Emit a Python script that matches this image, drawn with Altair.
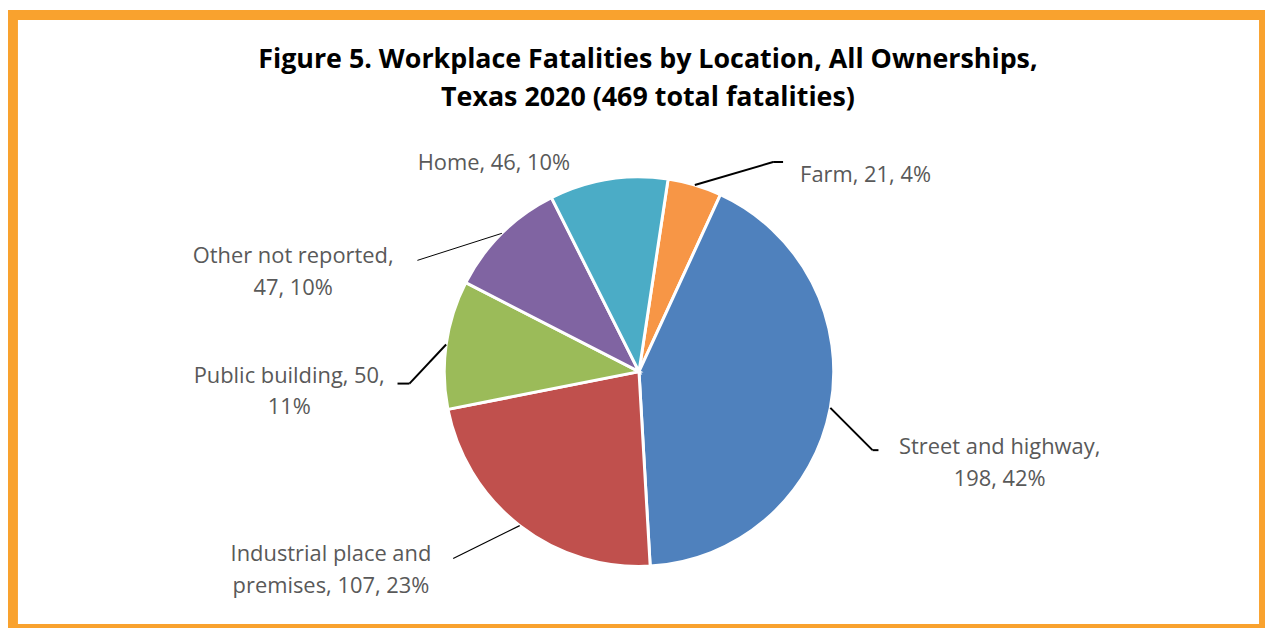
import math
import altair as alt
import pandas as pd

# ---------------- data ----------------
locations = ["Farm", "Street and highway", "Industrial place and premises",
             "Public building", "Other not reported", "Home"]
fatalities = [21, 198, 107, 50, 47, 46]
percents = [4, 42, 23, 11, 10, 10]
label_texts = ["Farm, 21, 4%",
               "Street and highway,\n198, 42%",
               "Industrial place and\npremises, 107, 23%",
               "Public building, 50,\n11%",
               "Other not reported,\n47, 10%",
               "Home, 46, 10%"]
colors = ["#F79646", "#4F81BD", "#C0504D", "#9BBB59", "#8064A2", "#4BACC6"]
title_lines = ["Figure 5. Workplace Fatalities by Location, All Ownerships,",
               "Texas 2020 (469 total fatalities)"]

# ---------------- layout (pixels inside the chart) ----------------
W, H = 1265, 620
CX, CY, R = 635, 364, 196
START_DEG = 8.6
label_pos = {  # centre x and first-line centre y of each label
    "Farm": (863, 166), "Street and highway": (998, 440),
    "Industrial place and premises": (325, 548), "Public building": (283, 368),
    "Other not reported": (287, 248), "Home": (489, 154)}
leader_pts = {  # points after the start point on the pie edge
    "Farm": [(770, 153), (780, 153)],
    "Street and highway": [(870, 443), (876, 443)],
    "Industrial place and premises": [(448, 552)],
    "Public building": [(404, 376), (392, 376)],
    "Other not reported": [(412, 252)],
}
leader_w = {"Farm": 2, "Street and highway": 2, "Industrial place and premises": 1.2,
            "Public building": 2, "Other not reported": 1}

df = pd.DataFrame({"loc": locations, "value": fatalities, "idx": range(len(locations))})

# mid angles from the data
total = sum(fatalities)
mid_deg = {}
cum = 0
for loc, v in zip(locations, fatalities):
    mid_deg[loc] = START_DEG + (cum + v / 2) / total * 360
    cum += v

seg_rows = []
for loc, pts in leader_pts.items():
    a = math.radians(mid_deg[loc])
    start = (CX + R * math.sin(a), CY - R * math.cos(a))
    chain = [start] + pts
    for p, q in zip(chain[:-1], chain[1:]):
        seg_rows.append({"x": p[0], "y": p[1], "x2": q[0], "y2": q[1], "w": leader_w[loc]})
seg_df = pd.DataFrame(seg_rows)

lab_df = pd.DataFrame({"text": label_texts,
                       "x": [label_pos[l][0] for l in locations],
                       "y": [label_pos[l][1] for l in locations]})

a0 = math.radians(START_DEG)
pie = alt.Chart(df).mark_arc(radius=R, stroke="white", strokeWidth=3).encode(
    theta=alt.Theta("value:Q", stack=True, scale=alt.Scale(range=[a0, a0 + 2 * math.pi])),
    color=alt.Color("loc:N", scale=alt.Scale(domain=locations, range=colors), legend=None),
    order=alt.Order("idx:Q"),
    x=alt.value(CX), y=alt.value(CY),
)

leaders = alt.Chart(seg_df).mark_rule(color="black").encode(
    x=alt.X("x:Q", scale=None, axis=None), y=alt.Y("y:Q", scale=None, axis=None),
    x2="x2:Q", y2="y2:Q", size=alt.Size("w:Q", scale=None, legend=None),
)

labels = alt.Chart(lab_df).mark_text(
    font="Open Sans", fontSize=22, color="#595959", align="center", baseline="middle",
    lineBreak="\n", lineHeight=32,
).encode(
    x=alt.X("x:Q", scale=None, axis=None), y=alt.Y("y:Q", scale=None, axis=None),
    text="text:N",
)

title_df = pd.DataFrame({"text": title_lines, "y": [50, 89]})
title = alt.Chart(title_df).mark_text(
    font="Open Sans", fontSize=27, fontWeight="bold", color="black",
    align="center", baseline="middle",
).encode(x=alt.value(644), y=alt.Y("y:Q", scale=None, axis=None), text="text:N")

border = alt.Chart(pd.DataFrame({"k": [0]})).mark_rect(
    fillOpacity=0, stroke="#F9A22E", strokeWidth=10,
).encode(x=alt.value(5), x2=alt.value(W - 1), y=alt.value(5), y2=alt.value(H + 3))

chart = alt.layer(pie, leaders, labels, title, border).properties(
    width=W, height=H, padding=0, autosize=alt.AutoSizeParams(type="none"),
    background="white",
).configure_view(stroke=None)

chart.save("out.html", embed_options={"renderer": "svg", "actions": False})
